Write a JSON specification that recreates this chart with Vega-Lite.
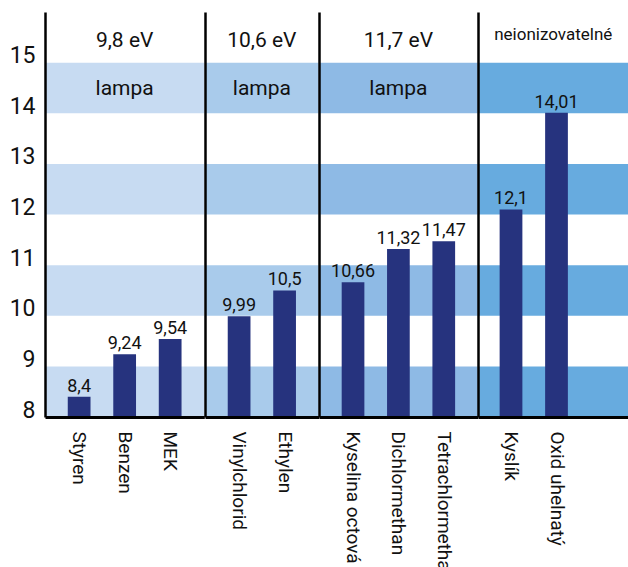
{
  "$schema": "https://vega.github.io/schema/vega-lite/v6.json",
  "padding": {"left": 9, "top": 12, "right": 0, "bottom": 0},
  "autosize": {"type": "pad"},
  "spacing": 0,
  "bounds": "flush",
  "resolve": {"scale": {"x": "independent", "y": "independent"}, "axis": {"x": "independent", "y": "independent"}},
  "datasets": {
    "bars": [
      {"group": "A", "name": "Styren", "value": 8.4},
      {"group": "A", "name": "Benzen", "value": 9.24},
      {"group": "A", "name": "MEK", "value": 9.54},
      {"group": "B", "name": "Vinylchlorid", "value": 9.99},
      {"group": "B", "name": "Ethylen", "value": 10.5},
      {"group": "C", "name": "Kyselina octová", "value": 10.66},
      {"group": "C", "name": "Dichlormethan", "value": 11.32},
      {"group": "C", "name": "Tetrachlormethan", "value": 11.47},
      {"group": "D", "name": "Kyslík", "value": 12.1},
      {"group": "D", "name": "Oxid uhelnatý", "value": 14.01}
    ],
    "stripes": [
      {"lo": 8, "hi": 9},
      {"lo": 10, "hi": 11},
      {"lo": 12, "hi": 13},
      {"lo": 14, "hi": 15}
    ],
    "groups": [
      {"group": "A", "energie": "9,8 eV", "lampa": "lampa"},
      {"group": "B", "energie": "10,6 eV", "lampa": "lampa"},
      {"group": "C", "energie": "11,7 eV", "lampa": "lampa"},
      {"group": "D", "energie": "neionizovatelné", "lampa": ""}
    ]
  },
  "hconcat": [
    {
      "width": 159.3, "height": 405,
      "layer": [
        {"data": {"name": "stripes"}, "mark": {"type": "rect", "color": "#c7dbf2"},
         "encoding": {
           "y": {"field": "lo", "type": "quantitative", "scale": {"domain": [8, 16], "nice": false, "zero": false},
                 "axis": {"values": [8, 9, 10, 11, 12, 13, 14, 15], "title": null, "ticks": false, "grid": false, "domainColor": "#000000", "domainWidth": 2.5, "labelFontSize": 23, "labelBaseline": "alphabetic", "labelPadding": 10, "labelColor": "#111111", "zindex": 1}},
           "y2": {"field": "hi"}}},
        {"data": {"name": "bars"}, "transform": [{"filter": "datum.group === 'A'"}],
         "mark": {"type": "bar", "color": "#26337e"},
         "encoding": {
           "x": {"field": "name", "type": "nominal", "sort": null, "scale": {"paddingInner": 0.5, "paddingOuter": 0.5},
                 "axis": {"title": null, "ticks": false, "labelAngle": 90, "labelAlign": "left", "labelBaseline": "middle", "labelPadding": 14, "labelFontSize": 19, "labelColor": "#111111", "domainColor": "#000000", "domainWidth": 3, "zindex": 1}},
           "y": {"field": "value", "type": "quantitative"},
           "y2": {"datum": 8}}},
        {"data": {"name": "bars"}, "transform": [{"filter": "datum.group === 'A'"}],
         "mark": {"type": "text", "dy": -5, "baseline": "alphabetic", "fontSize": 18, "color": "#111111"},
         "encoding": {
           "x": {"field": "name", "type": "nominal", "sort": null},
           "y": {"field": "value", "type": "quantitative"},
           "text": {"field": "value", "type": "quantitative", "format": "~g"}}},
        {"data": {"name": "groups"}, "transform": [{"filter": "datum.group === 'A'"}],
         "mark": {"type": "text", "baseline": "alphabetic", "fontSize": 21, "color": "#111111"},
         "encoding": {"y": {"datum": 15.31, "type": "quantitative"}, "text": {"field": "energie"}}},
        {"data": {"name": "groups"}, "transform": [{"filter": "datum.group === 'A'"}],
         "mark": {"type": "text", "baseline": "alphabetic", "fontSize": 21, "color": "#111111"},
         "encoding": {"y": {"datum": 14.36, "type": "quantitative"}, "text": {"field": "lampa"}}}
      ]
    },
    {
      "width": 113.7, "height": 405,
      "layer": [
        {"data": {"name": "stripes"}, "mark": {"type": "rect", "color": "#a9cbeb"},
         "encoding": {
           "y": {"field": "lo", "type": "quantitative", "scale": {"domain": [8, 16], "nice": false, "zero": false},
                 "axis": {"values": [], "title": null, "labels": false, "ticks": false, "grid": false, "domainColor": "#000000", "domainWidth": 2.5, "zindex": 1}},
           "y2": {"field": "hi"}}},
        {"data": {"name": "bars"}, "transform": [{"filter": "datum.group === 'B'"}],
         "mark": {"type": "bar", "color": "#26337e"},
         "encoding": {
           "x": {"field": "name", "type": "nominal", "sort": null, "scale": {"paddingInner": 0.5, "paddingOuter": 0.5},
                 "axis": {"title": null, "ticks": false, "labelAngle": 90, "labelAlign": "left", "labelBaseline": "middle", "labelPadding": 14, "labelFontSize": 19, "labelColor": "#111111", "domainColor": "#000000", "domainWidth": 3, "zindex": 1}},
           "y": {"field": "value", "type": "quantitative"},
           "y2": {"datum": 8}}},
        {"data": {"name": "bars"}, "transform": [{"filter": "datum.group === 'B'"}],
         "mark": {"type": "text", "dy": -5, "baseline": "alphabetic", "fontSize": 18, "color": "#111111"},
         "encoding": {
           "x": {"field": "name", "type": "nominal", "sort": null},
           "y": {"field": "value", "type": "quantitative"},
           "text": {"field": "value", "type": "quantitative", "format": "~g"}}},
        {"data": {"name": "groups"}, "transform": [{"filter": "datum.group === 'B'"}],
         "mark": {"type": "text", "baseline": "alphabetic", "fontSize": 21, "color": "#111111"},
         "encoding": {"y": {"datum": 15.31, "type": "quantitative"}, "text": {"field": "energie"}}},
        {"data": {"name": "groups"}, "transform": [{"filter": "datum.group === 'B'"}],
         "mark": {"type": "text", "baseline": "alphabetic", "fontSize": 21, "color": "#111111"},
         "encoding": {"y": {"datum": 14.36, "type": "quantitative"}, "text": {"field": "lampa"}}}
      ]
    },
    {
      "width": 158.8, "height": 405,
      "layer": [
        {"data": {"name": "stripes"}, "mark": {"type": "rect", "color": "#8ebae5"},
         "encoding": {
           "y": {"field": "lo", "type": "quantitative", "scale": {"domain": [8, 16], "nice": false, "zero": false},
                 "axis": {"values": [], "title": null, "labels": false, "ticks": false, "grid": false, "domainColor": "#000000", "domainWidth": 2.5, "zindex": 1}},
           "y2": {"field": "hi"}}},
        {"data": {"name": "bars"}, "transform": [{"filter": "datum.group === 'C'"}],
         "mark": {"type": "bar", "color": "#26337e"},
         "encoding": {
           "x": {"field": "name", "type": "nominal", "sort": null, "scale": {"paddingInner": 0.5, "paddingOuter": 0.5},
                 "axis": {"title": null, "ticks": false, "labelAngle": 90, "labelAlign": "left", "labelBaseline": "middle", "labelPadding": 14, "labelFontSize": 19, "labelColor": "#111111", "domainColor": "#000000", "domainWidth": 3, "zindex": 1}},
           "y": {"field": "value", "type": "quantitative"},
           "y2": {"datum": 8}}},
        {"data": {"name": "bars"}, "transform": [{"filter": "datum.group === 'C'"}],
         "mark": {"type": "text", "dy": -5, "baseline": "alphabetic", "fontSize": 18, "color": "#111111"},
         "encoding": {
           "x": {"field": "name", "type": "nominal", "sort": null},
           "y": {"field": "value", "type": "quantitative"},
           "text": {"field": "value", "type": "quantitative", "format": "~g"}}},
        {"data": {"name": "groups"}, "transform": [{"filter": "datum.group === 'C'"}],
         "mark": {"type": "text", "baseline": "alphabetic", "fontSize": 21, "color": "#111111"},
         "encoding": {"y": {"datum": 15.31, "type": "quantitative"}, "text": {"field": "energie"}}},
        {"data": {"name": "groups"}, "transform": [{"filter": "datum.group === 'C'"}],
         "mark": {"type": "text", "baseline": "alphabetic", "fontSize": 21, "color": "#111111"},
         "encoding": {"y": {"datum": 14.36, "type": "quantitative"}, "text": {"field": "lampa"}}}
      ]
    },
    {
      "width": 150.5, "height": 405,
      "layer": [
        {"data": {"name": "stripes"}, "mark": {"type": "rect", "color": "#67abdf"},
         "encoding": {
           "y": {"field": "lo", "type": "quantitative", "scale": {"domain": [8, 16], "nice": false, "zero": false},
                 "axis": {"values": [], "title": null, "labels": false, "ticks": false, "grid": false, "domainColor": "#000000", "domainWidth": 2.5, "zindex": 1}},
           "y2": {"field": "hi"}}},
        {"data": {"name": "bars"}, "transform": [{"filter": "datum.group === 'D'"}],
         "mark": {"type": "bar", "color": "#26337e"},
         "encoding": {
           "x": {"field": "name", "type": "nominal", "sort": null, "scale": {"paddingInner": 0.5, "paddingOuter": 0.904, "align": 0.263},
                 "axis": {"title": null, "ticks": false, "labelAngle": 90, "labelAlign": "left", "labelBaseline": "middle", "labelPadding": 14, "labelFontSize": 19, "labelColor": "#111111", "domainColor": "#000000", "domainWidth": 3, "zindex": 1}},
           "y": {"field": "value", "type": "quantitative"},
           "y2": {"datum": 8}}},
        {"data": {"name": "bars"}, "transform": [{"filter": "datum.group === 'D'"}],
         "mark": {"type": "text", "dy": -5, "baseline": "alphabetic", "fontSize": 18, "color": "#111111"},
         "encoding": {
           "x": {"field": "name", "type": "nominal", "sort": null},
           "y": {"field": "value", "type": "quantitative"},
           "text": {"field": "value", "type": "quantitative", "format": "~g"}}},
        {"data": {"name": "groups"}, "transform": [{"filter": "datum.group === 'D'"}],
         "mark": {"type": "text", "baseline": "alphabetic", "fontSize": 17, "color": "#111111"},
         "encoding": {"y": {"datum": 15.44, "type": "quantitative"}, "text": {"field": "energie"}}}
      ]
    }
  ],
  "config": {
    "font": "Roboto",
    "axis": {"labelFont": "Roboto"},
    "text": {"font": "Roboto"},
    "view": {"stroke": null},
    "locale": {"number": {"decimal": ",", "thousands": " ", "grouping": [3], "currency": ["", " Kč"]}}
  }
}
